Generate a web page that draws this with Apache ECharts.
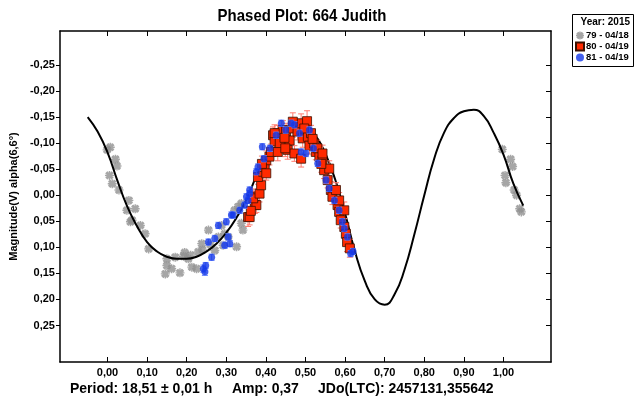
<!DOCTYPE html>
<html>
<head>
<meta charset="utf-8">
<script src="https://cdn.jsdelivr.net/npm/echarts@6/dist/echarts.min.js"></script>
<style>html,body{margin:0;padding:0;background:#fff}#c{width:636px;height:400px}</style>
</head>
<body>
<div id="c"></div>
<script>
// ---- data ----
const titleText = 'Phased Plot: 664 Judith';
const yAxisName = 'Magnitude(V) alpha(6,6°)';
const xTicks = [0, 0.1, 0.2, 0.3, 0.4, 0.5, 0.6, 0.7, 0.8, 0.9, 1.0];
const yTicks = [-0.25, -0.2, -0.15, -0.1, -0.05, 0, 0.05, 0.1, 0.15, 0.2, 0.25];
const legendTitle = 'Year: 2015';
const seriesNames = ['79 - 04/18', '80 - 04/19', '81 - 04/19'];
const footerTexts = ['Period: 18,51 ± 0,01 h', 'Amp: 0,37', 'JDo(LTC): 2457131,355642'];

// Fourier fit curve [phase, mag]
const curve = [
  [-0.050,-0.150],[-0.025,-0.122],[0.000,-0.082],[0.025,-0.028],[0.050,0.022],[0.075,0.060],
  [0.100,0.090],[0.125,0.108],[0.150,0.118],[0.175,0.122],[0.200,0.122],[0.225,0.118],
  [0.250,0.108],[0.275,0.093],[0.300,0.072],[0.325,0.044],[0.350,0.010],[0.375,-0.035],
  [0.400,-0.075],[0.425,-0.105],[0.450,-0.125],[0.475,-0.135],[0.500,-0.133],[0.525,-0.115],
  [0.550,-0.080],[0.575,-0.030],[0.600,0.035],[0.625,0.108],[0.650,0.165],[0.675,0.200],
  [0.700,0.210],[0.725,0.190],[0.750,0.143],[0.775,0.075],[0.800,0.000],[0.825,-0.070],
  [0.850,-0.120],[0.875,-0.148],[0.900,-0.161],[0.925,-0.164],[0.950,-0.152],[0.975,-0.120],
  [1.000,-0.078],[1.025,-0.022],[1.050,0.020]
];

// session 79 [phase, mag]
const s79 = [
  [-0.001,-0.087],[0.007,-0.092],[0.020,-0.069],[0.024,-0.056],[0.005,-0.038],[0.012,-0.022],
  [0.029,-0.010],[0.054,0.010],[0.049,0.029],[0.070,0.026],[0.058,0.051],[0.083,0.058],
  [0.095,0.074],[0.104,0.103],[0.150,0.122],[0.171,0.119],[0.192,0.117],[0.204,0.122],
  [0.146,0.151],[0.162,0.141],[0.183,0.149],[0.150,0.135],[0.195,0.110],[0.210,0.115],
  [0.225,0.141],[0.271,0.106],[0.280,0.080],[0.288,0.058],[0.330,0.022],[0.342,0.067],
  [0.338,0.054],[0.326,0.099],[0.292,0.096],[0.296,0.074],[0.338,0.016],[0.260,0.095],
  [0.240,0.105],[0.213,0.138],[0.229,0.109],[0.238,0.093],[0.255,0.067],[0.305,0.080],
  [0.321,0.029],[0.062,0.048],
  [0.997,-0.088],[1.018,-0.069],[1.023,-0.055],[1.004,-0.038],[1.006,-0.024],[1.027,-0.010],
  [1.033,0.000],[1.041,0.026],[1.045,0.032]
];

// session 80 [phase, mag, err]
const s80 = [
  [0.355,0.042,0.018],[0.359,0.042,0.015],[0.372,0.019,0.016],[0.376,0.019,0.014],[0.368,0.003,0.015],
  [0.368,0.006,0.013],[0.384,-0.003,0.016],[0.388,-0.019,0.015],[0.380,-0.035,0.014],[0.393,-0.045,0.016],
  [0.397,-0.054,0.015],[0.401,-0.042,0.013],[0.401,-0.067,0.018],[0.409,-0.074,0.016],[0.413,-0.083,0.015],
  [0.418,-0.115,0.016],[0.422,-0.103,0.017],[0.430,-0.119,0.015],[0.430,-0.083,0.017],[0.439,-0.109,0.016],
  [0.443,-0.125,0.018],[0.451,-0.122,0.016],[0.455,-0.087,0.018],[0.460,-0.105,0.016],[0.468,-0.128,0.017],
  [0.472,-0.080,0.015],[0.480,-0.122,0.016],[0.489,-0.138,0.018],[0.493,-0.109,0.017],[0.504,-0.142,0.020],
  [0.506,-0.112,0.016],[0.514,-0.119,0.015],[0.510,-0.095,0.016],[0.522,-0.099,0.016],[0.526,-0.083,0.015],
  [0.535,-0.074,0.016],[0.543,-0.067,0.015],[0.547,-0.048,0.016],[0.556,-0.029,0.015],[0.560,-0.051,0.015],
  [0.564,-0.010,0.016],[0.568,0.003,0.015],[0.577,-0.010,0.014],[0.581,0.019,0.016],[0.585,0.010,0.015],
  [0.585,0.032,0.016],[0.589,0.048,0.015],[0.598,0.029,0.016],[0.598,0.061,0.016],[0.602,0.074,0.017],
  [0.605,0.090,0.018],[0.612,0.102,0.017],[0.390,-0.060,0.015],[0.435,-0.100,0.016],[0.447,-0.110,0.016],
  [0.497,-0.128,0.016],[0.518,-0.108,0.016],[0.530,-0.090,0.015],[0.540,-0.060,0.016],[0.362,0.030,0.016],
  [0.489,-0.070,0.016],[0.543,-0.080,0.016],[0.468,-0.141,0.017],[0.449,-0.090,0.016],[0.422,-0.119,0.016]
];

// session 81 [phase, mag, err]
const s81 = [
  [0.242,0.141,0.007],[0.246,0.147,0.007],[0.248,0.135,0.006],[0.263,0.119,0.006],[0.255,0.090,0.006],
  [0.271,0.083,0.006],[0.280,0.058,0.006],[0.300,0.051,0.006],[0.296,0.096,0.006],[0.309,0.093,0.006],
  [0.305,0.080,0.006],[0.313,0.038,0.006],[0.317,0.038,0.006],[0.334,0.029,0.006],[0.346,0.019,0.006],
  [0.351,0.003,0.006],[0.355,0.010,0.006],[0.359,-0.003,0.006],[0.359,-0.010,0.006],[0.376,-0.045,0.006],
  [0.380,-0.054,0.006],[0.391,-0.093,0.006],[0.395,-0.070,0.006],[0.410,-0.090,0.006],[0.426,-0.115,0.006],
  [0.439,-0.138,0.006],[0.450,-0.125,0.006],[0.464,-0.138,0.006],[0.472,-0.135,0.006],[0.485,-0.119,0.006],
  [0.489,-0.083,0.006],[0.501,-0.080,0.006],[0.510,-0.125,0.006],[0.520,-0.090,0.006],[0.531,-0.061,0.006],
  [0.552,-0.029,0.006],[0.560,-0.013,0.006],[0.573,0.010,0.006],[0.585,0.029,0.006],[0.593,0.051,0.006],
  [0.598,0.064,0.006],[0.606,0.080,0.006],[0.614,0.112,0.006],[0.620,0.108,0.006]
];

// ---- chart ----
const FONT = 'Liberation Sans, Arial, sans-serif';
const fmt = v => v.toFixed(2).replace('.', ',');
const asterisk = 'path://M5 0L5 10M0 5L10 5M1.5 1.5L8.5 8.5M1.5 8.5L8.5 1.5M2.5 0.7L7.5 9.3M7.5 0.7L2.5 9.3M0.7 2.5L9.3 7.5M0.7 7.5L9.3 2.5';

function errBar(color) {
  return function (params, api) {
    const x = api.value(0), y = api.value(1), e = api.value(2);
    const p1 = api.coord([x, y - e]);
    const p2 = api.coord([x, y + e]);
    const w = 3;
    const st = { stroke: color, lineWidth: 1, fill: null };
    return {
      type: 'group',
      children: [
        { type: 'line', shape: { x1: p1[0], y1: p1[1], x2: p2[0], y2: p2[1] }, style: st },
        { type: 'line', shape: { x1: p1[0] - w, y1: p1[1], x2: p1[0] + w, y2: p1[1] }, style: st },
        { type: 'line', shape: { x1: p2[0] - w, y1: p2[1], x2: p2[0] + w, y2: p2[1] }, style: st }
      ]
    };
  };
}

const axisLine = { show: true, onZero: false, lineStyle: { color: '#000', width: 1.5 } };
const labelStyle = { color: '#000', fontFamily: FONT, fontWeight: 'bold', fontSize: 11 };

const chart = echarts.init(document.getElementById('c'), null, { renderer: 'canvas' });
chart.setOption({
  animation: false,
  backgroundColor: '#fff',
  grid: { left: 57, right: 85, top: 31, bottom: 38, containLabel: false },
  xAxis: [
    {
      type: 'value', min: -0.12, max: 1.12, position: 'bottom',
      axisLine: axisLine,
      axisTick: { show: true, inside: true, length: 5, customValues: xTicks, lineStyle: { color: '#000', width: 1 } },
      axisLabel: Object.assign({ show: true, customValues: xTicks, formatter: fmt, margin: 5 }, labelStyle),
      splitLine: { show: false }
    },
    {
      type: 'value', min: -0.12, max: 1.12, position: 'top',
      axisLine: axisLine,
      axisTick: { show: true, inside: true, length: 5, customValues: xTicks, lineStyle: { color: '#000', width: 1 } },
      axisLabel: { show: false },
      splitLine: { show: false }
    }
  ],
  yAxis: [
    {
      type: 'value', inverse: true, min: -0.315, max: 0.32, position: 'left',
      axisLine: axisLine,
      axisTick: { show: true, inside: false, length: 4, customValues: yTicks, lineStyle: { color: '#000', width: 1 } },
      axisLabel: Object.assign({ show: true, customValues: yTicks, formatter: fmt, margin: 5 }, labelStyle),
      splitLine: { show: false },
      name: yAxisName, nameLocation: 'middle', nameRotate: 90, nameGap: 40,
      nameTextStyle: { color: '#000', fontFamily: FONT, fontWeight: 'bold', fontSize: 11 }
    },
    {
      type: 'value', inverse: true, min: -0.315, max: 0.32, position: 'right',
      axisLine: axisLine,
      axisTick: { show: true, inside: true, length: 5, customValues: yTicks, lineStyle: { color: '#000', width: 1 } },
      axisLabel: { show: false },
      splitLine: { show: false }
    }
  ],
  legend: {
    orient: 'vertical', left: 575, top: 30, padding: 0, itemGap: 0,
    itemWidth: 8, itemHeight: 8, selectedMode: false,
    textStyle: { color: '#000', fontFamily: FONT, fontWeight: 'bold', fontSize: 9.5, lineHeight: 11, padding: [0, 0, 0, -3] },
    data: [
      { name: seriesNames[0], icon: asterisk, itemStyle: { color: 'rgba(0,0,0,0)', borderColor: '#8e8e8e', borderWidth: 1.4 } },
      { name: seriesNames[1], icon: 'rect' },
      { name: seriesNames[2], icon: 'circle' }
    ]
  },
  graphic: [
    { type: 'text', x: 302, y: 8, scaleX: 0.88, style: { x: 0, y: 0, text: titleText, textAlign: 'center', fill: '#000', font: 'bold 17px ' + FONT } },
    { type: 'rect', shape: { x: 572.5, y: 14.5, width: 61, height: 52 }, style: { fill: 'none', stroke: '#000', lineWidth: 1 }, z: 10 },
    { type: 'text', style: { x: 630, y: 17, text: legendTitle, textAlign: 'right', fill: '#000', font: 'bold 10px ' + FONT }, z: 11 },
    { type: 'text', style: { x: 70, y: 382, text: footerTexts[0], fill: '#000', font: 'bold 14px ' + FONT } },
    { type: 'text', style: { x: 232, y: 382, text: footerTexts[1], fill: '#000', font: 'bold 14px ' + FONT } },
    { type: 'text', style: { x: 318, y: 382, text: footerTexts[2], fill: '#000', font: 'bold 14px ' + FONT } }
  ],
  series: [
    {
      name: seriesNames[0], type: 'scatter', data: s79, symbol: asterisk, symbolSize: 9, z: 2,
      itemStyle: { color: 'rgba(0,0,0,0)', borderColor: '#909090', borderWidth: 1.4 }
    },
    {
      name: 'fit', type: 'line', data: curve, smooth: true, showSymbol: false, symbol: 'none', z: 3,
      lineStyle: { color: '#000', width: 2 }
    },
    {
      name: 'err80', type: 'custom', data: s80, renderItem: errBar('#ff7a6e'), z: 4,
      encode: { x: 0, y: 1 }
    },
    {
      name: seriesNames[1], type: 'scatter', data: s80, symbol: 'rect', symbolSize: 9, z: 5,
      encode: { x: 0, y: 1 },
      itemStyle: { color: '#ff2a00', borderColor: '#3a1000', borderWidth: 0.8, opacity: 1 }
    },
    {
      name: 'err81', type: 'custom', data: s81, renderItem: errBar('#6f8cff'), z: 6,
      encode: { x: 0, y: 1 }
    },
    {
      name: seriesNames[2], type: 'scatter', data: s81, symbol: 'circle', symbolSize: 7, z: 7,
      encode: { x: 0, y: 1 },
      itemStyle: { color: '#1438e8', borderColor: '#1438e8', borderWidth: 0 }
    }
  ]
});
</script>
</body>
</html>
